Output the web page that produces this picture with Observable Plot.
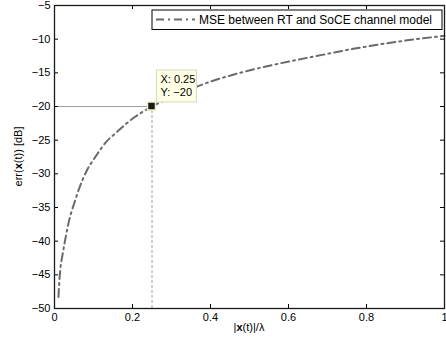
<!DOCTYPE html>
<html><head><meta charset="utf-8">
<script src="https://cdn.jsdelivr.net/npm/d3@7"></script>
<script src="https://cdn.jsdelivr.net/npm/@observablehq/plot@0.6"></script>
<style>
body{margin:0;background:#fff;}
svg{font-family:"Liberation Sans",Arial,sans-serif;}
</style></head>
<body><div id="chart"></div>
<script>
const xVals = [0.0102, 0.0115, 0.0146, 0.021, 0.030, 0.038, 0.051, 0.060, 0.083, 0.107, 0.132, 0.158, 0.183, 0.205, 0.226, 0.25, 0.3, 0.35, 0.39, 0.476, 0.578, 0.663, 0.774, 0.876, 1.0];
const yVals = [-48.3, -46.8, -44.4, -41.9, -39.0, -36.8, -34.3, -32.7, -29.5, -27.3, -25.3, -23.9, -22.6, -21.6, -20.8, -20, -18.6, -17.4, -16.5, -15.0, -13.6, -12.6, -11.35, -10.4, -9.5];
const xTicks = [0, 0.2, 0.4, 0.6, 0.8, 1];
const yTicks = [-50, -45, -40, -35, -30, -25, -20, -15, -10, -5];
const tipX = 0.25, tipY = -20;
const seriesName = "MSE between RT and SoCE channel model";

const data = xVals.map((x, i) => ({x, y: yVals[i]}));
const W = 446, H = 348, mL = 54, mR = 2, mT = 5, mB = 40;
const pw = W - mL - mR, ph = H - mT - mB;
const lineColor = "#6a6a6a", dash = "8,4,2,4";

const plot = Plot.plot({
  width: W, height: H,
  marginLeft: mL, marginRight: mR, marginTop: mT, marginBottom: mB,
  x: {domain: [0, 1]},
  y: {domain: [-50, -5]},
  style: {fontSize: "11px", fontFamily: "'Liberation Sans', Arial, sans-serif", color: "#000"},
  marks: [
    Plot.ruleY([tipY], {x1: 0, x2: tipX, stroke: "#a0a0a0", strokeWidth: 1}),
    Plot.ruleX([tipX], {y1: -50, y2: tipY, stroke: "#a0a0a0", strokeWidth: 1, strokeDasharray: "3,2"}),
    Plot.line(data, {x: "x", y: "y", stroke: lineColor, strokeWidth: 2, strokeDasharray: dash, curve: "monotone-x"}),
    Plot.tickY(yTicks, {y: d => d, stroke: "#000", insetRight: pw - 4}),
    Plot.tickY(yTicks, {y: d => d, stroke: "#000", insetLeft: pw - 4}),
    Plot.tickX(xTicks, {x: d => d, stroke: "#000", insetTop: ph - 4}),
    Plot.tickX(xTicks, {x: d => d, stroke: "#000", insetBottom: ph - 4}),
    Plot.axisX({ticks: xTicks, tickSize: 0, tickPadding: 5, label: null, tickFormat: d => String(d)}),
    Plot.axisY({ticks: yTicks, tickSize: 0, tickPadding: 4, label: null, tickFormat: d => d < 0 ? "\u2212" + Math.abs(d) : String(d)}),
    Plot.frame({stroke: "#1a1a1a", strokeWidth: 1.3})
  ]
});
document.getElementById("chart").appendChild(plot);

const svg = d3.select(plot);
const sx = plot.scale("x"), sy = plot.scale("y");
const px = sx.apply(tipX), py = sy.apply(tipY);

// data tip box
const g = svg.append("g").attr("text-anchor", "start");
g.append("rect").attr("x", px + 5).attr("y", py - 36).attr("width", 40).attr("height", 32)
  .attr("fill", "#ffffe6").attr("stroke", "#d8d8c0").attr("stroke-width", 1);
const t = g.append("text").attr("font-size", 11).attr("fill", "#000").attr("text-anchor", "start");
t.append("tspan").attr("x", px + 9).attr("y", py - 23).text("X: " + tipX);
t.append("tspan").attr("x", px + 9).attr("y", py - 10).text("Y: " + (tipY < 0 ? "\u2212" + Math.abs(tipY) : tipY));
g.append("rect").attr("x", px - 4).attr("y", py - 4).attr("width", 8).attr("height", 8)
  .attr("fill", "#1a1a1a").attr("stroke", "#f2eec0").attr("stroke-width", 1.5);

// legend
const lg = svg.append("g").attr("text-anchor", "start");
lg.append("rect").attr("x", 152).attr("y", 10).attr("width", 290).attr("height", 19.5)
  .attr("fill", "#fff").attr("stroke", "#000").attr("stroke-width", 1);
lg.append("line").attr("x1", 156).attr("x2", 195).attr("y1", 19.5).attr("y2", 19.5)
  .attr("stroke", lineColor).attr("stroke-width", 2).attr("stroke-dasharray", dash);
lg.append("text").attr("x", 199).attr("y", 23.8).attr("font-size", 12).attr("text-anchor", "start").text(seriesName);

// axis labels
const xl = svg.append("text").attr("x", mL + pw / 2).attr("y", 331).attr("text-anchor", "middle").attr("font-size", 11);
xl.append("tspan").text("|");
xl.append("tspan").attr("font-weight", "bold").text("x");
xl.append("tspan").text("(t)|/\u03bb");
const yl = svg.append("text").attr("transform", `translate(22,${mT + ph / 2}) rotate(-90)`).attr("text-anchor", "middle").attr("font-size", 11);
yl.append("tspan").text("err(");
yl.append("tspan").attr("font-weight", "bold").text("x");
yl.append("tspan").text("(t)) [dB]");
</script></body></html>
